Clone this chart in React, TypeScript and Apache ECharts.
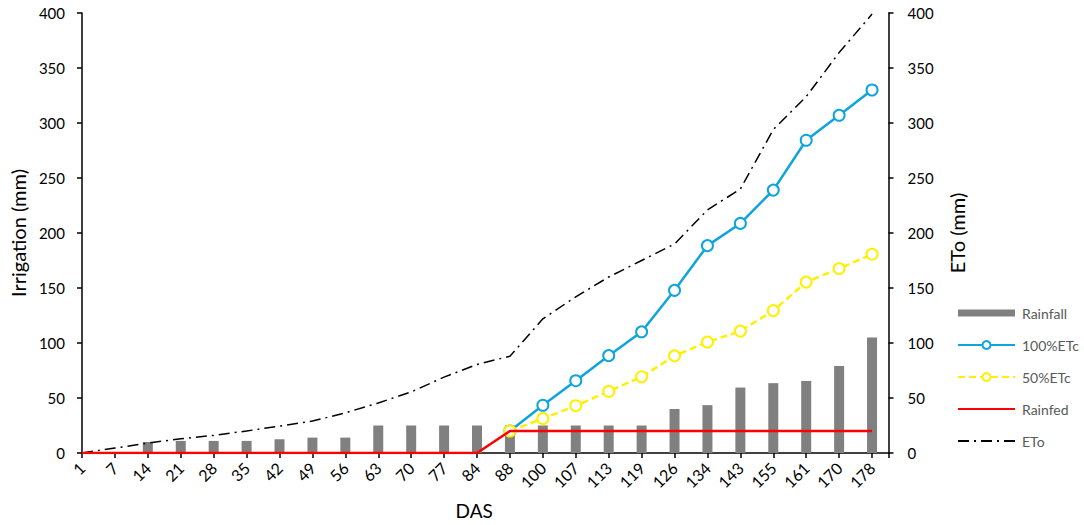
import React, { useEffect, useRef } from "react";
import * as echarts from "echarts";

const categories = ["1", "7", "14", "21", "28", "35", "42", "49", "56", "63", "70", "77", "84", "88", "100", "107", "113", "119", "126", "134", "143", "155", "161", "170", "178"];
const rainfall = [0, 0, 10, 11, 11, 11, 12.5, 14, 14, 25, 25, 25, 25, 25, 25, 25, 25, 25, 40, 43.5, 59.5, 63.5, 65.5, 79, 105];
const etc100 = [null, null, null, null, null, null, null, null, null, null, null, null, null, 20, 43.4, 65.7, 88.5, 110.2, 147.9, 188.5, 208.7, 239, 284.3, 307, 330];
const etc50 = [null, null, null, null, null, null, null, null, null, null, null, null, null, 20, 31.3, 43, 56, 69.3, 88.3, 100.9, 110.8, 129.4, 155.4, 167.7, 180.7];
const rainfed = [0, 0, 0, 0, 0, 0, 0, 0, 0, 0, 0, 0, 0, 20, 20, 20, 20, 20, 20, 20, 20, 20, 20, 20, 20];
const eto = [0, 4.5, 9, 13, 16, 20, 24.5, 29, 36.5, 45.5, 55.5, 69, 80.5, 88, 122, 142, 160, 175, 190, 221, 240, 294, 324, 364, 399];

const FONT = "Lato";

const pairs = (arr: (number | null)[]) => arr.map((v, i) => [i, v]);

export default function App() {
  const ref = useRef<HTMLDivElement>(null);
  useEffect(() => {
    document.body.style.margin = "0";
    const chart = echarts.init(ref.current!, undefined, { renderer: "svg" });
    const axisLine = { show: true, lineStyle: { color: "#000", width: 1.5 } };
    chart.setOption({
      animation: false,
      textStyle: { fontFamily: FONT },
      grid: { left: 76.5, right: 195.5, top: 13, bottom: 69, containLabel: false },
      legend: {
        orient: "vertical",
        left: 957,
        top: 306,
        padding: 0,
        itemWidth: 57,
        itemHeight: 10,
        itemGap: 18,
        textStyle: { fontFamily: FONT, fontSize: 14, color: "#595959", padding: [0, 0, 0, 2] },
        data: [
          { name: "Rainfall", icon: "path://M0,0H57V7H0Z" },
          { name: "100%ETc" },
          { name: "50%ETc" },
          { name: "Rainfed", itemStyle: { opacity: 0 } },
          { name: "ETo", itemStyle: { opacity: 0 } },
        ],
      },
      xAxis: {
        type: "value",
        min: 0,
        max: 24.5,
        interval: 1,
        name: "DAS",
        nameLocation: "middle",
        nameGap: 48,
        nameTextStyle: { fontFamily: FONT, fontSize: 19, color: "#000", padding: [0, 22, 0, 0] },
        axisLine,
        axisTick: { show: true, length: 5, lineStyle: { color: "#000", width: 1.5 } },
        splitLine: { show: false },
        axisLabel: {
          rotate: 45,
          margin: 12,
          fontSize: 16,
          color: "#000",
          fontFamily: FONT,
          formatter: (v: number) => (Number.isInteger(v) && categories[v] !== undefined ? categories[v] : ""),
        },
      },
      yAxis: [
        {
          type: "value",
          min: 0,
          max: 400,
          interval: 50,
          position: "left",
          name: "Irrigation (mm)",
          nameLocation: "middle",
          nameGap: 50,
          nameTextStyle: { fontFamily: FONT, fontSize: 20, color: "#000" },
          axisLine,
          axisTick: { show: true, length: 5, lineStyle: { color: "#000", width: 1.5 } },
          splitLine: { show: false },
          axisLabel: { margin: 17, fontSize: 15, color: "#000", fontFamily: FONT },
        },
        {
          type: "value",
          min: 0,
          max: 400,
          interval: 50,
          position: "right",
          name: "ETo (mm)",
          nameLocation: "middle",
          nameRotate: 90,
          nameGap: 58,
          nameTextStyle: { fontFamily: FONT, fontSize: 20, color: "#000" },
          axisLine,
          axisTick: { show: true, length: 5, lineStyle: { color: "#000", width: 1.5 } },
          splitLine: { show: false },
          axisLabel: { margin: 19, fontSize: 15, color: "#000", fontFamily: FONT },
        },
      ],
      series: [
        {
          name: "Rainfall",
          type: "bar",
          barWidth: 10,
          data: pairs(rainfall),
          itemStyle: { color: "#808080" },
          z: 1,
        },
        {
          name: "100%ETc",
          type: "line",
          data: pairs(etc100),
          symbol: "emptyCircle",
          symbolSize: 11,
          lineStyle: { color: "#0EA5DE", width: 2.5 },
          itemStyle: { color: "#0EA5DE", borderWidth: 2.5 },
          z: 3,
        },
        {
          name: "50%ETc",
          type: "line",
          data: pairs(etc50),
          symbol: "emptyCircle",
          symbolSize: 11,
          lineStyle: { color: "#FFF000", width: 2.5, type: [7, 4] },
          itemStyle: { color: "#FFF000", borderWidth: 2.5 },
          z: 4,
        },
        {
          name: "Rainfed",
          type: "line",
          data: pairs(rainfed),
          symbol: "none",
          lineStyle: { color: "#FF0000", width: 2.5 },
          itemStyle: { color: "#FF0000" },
          z: 5,
        },
        {
          name: "ETo",
          type: "line",
          yAxisIndex: 1,
          data: pairs(eto),
          symbol: "none",
          lineStyle: { color: "#000", width: 1.5, type: [11, 5, 2, 5] },
          itemStyle: { color: "#000" },
          z: 2,
        },
      ],
    });
    return () => chart.dispose();
  }, []);
  return <div ref={ref} style={{ width: 1084, height: 525 }} />;
}
